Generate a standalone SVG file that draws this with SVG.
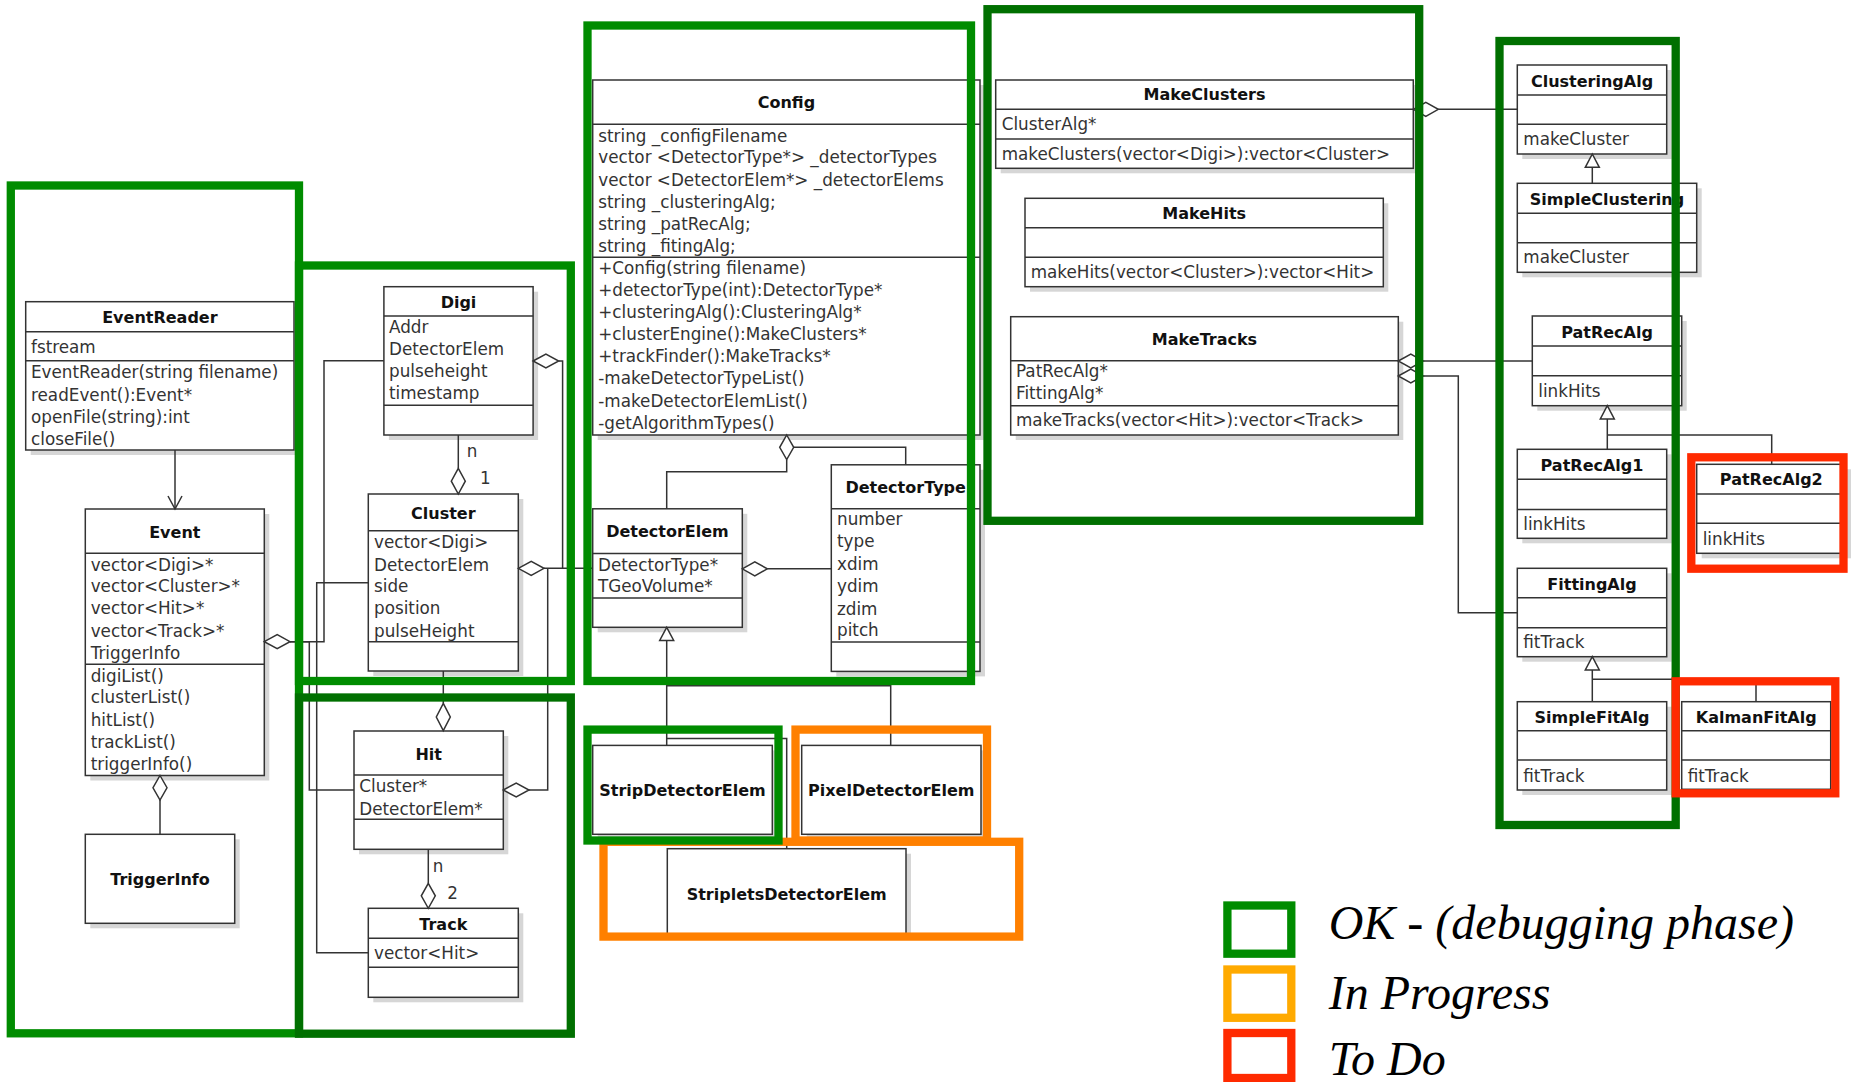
<svg xmlns="http://www.w3.org/2000/svg" width="1851" height="1082" viewBox="0 0 1851 1082">
<style>
.sh{fill:#d6d6d6}
.bx{fill:#fff;stroke:#333;stroke-width:1.5}
.dv{stroke:#333;stroke-width:1.5}
.t{font-family:"DejaVu Sans",sans-serif;font-weight:bold;font-size:16px;fill:#111;text-anchor:middle}
.m{font-family:"DejaVu Sans",sans-serif;font-size:16.8px;fill:#333}
.c{fill:none;stroke:#333;stroke-width:1.5}
.d{fill:#fff;stroke:#333;stroke-width:1.5}
.fr{fill:none;stroke-width:8.3}
.gb{stroke:#008c00}
.gd{stroke:#007000}
.or{stroke:#ff8000}
.rd{stroke:#ff2a00}
.lg{font-family:"Liberation Serif",serif;font-style:italic;font-size:48px;fill:#000}
</style>
<rect width="1851" height="1082" fill="#fff"/>

<!-- nodes -->
<g id="EventReader">
<rect class="sh" x="30.7" y="306.7" width="268.3" height="148.3"/>
<rect class="bx" x="25.7" y="301.7" width="268.3" height="148.3"/>
<line class="dv" x1="25.7" y1="331.7" x2="294" y2="331.7"/><line class="dv" x1="25.7" y1="360.7" x2="294" y2="360.7"/>
<text class="t" x="159.9" y="323.3">EventReader</text>
<text class="m" x="31" y="352.7">fstream</text>
<text class="m" x="31" y="378.3">EventReader(string filename)</text>
<text class="m" x="31" y="400.7">readEvent():Event*</text>
<text class="m" x="31" y="422.7">openFile(string):int</text>
<text class="m" x="31" y="445">closeFile()</text>
</g>
<g id="Event">
<rect class="sh" x="90.3" y="514" width="179" height="266.5"/>
<rect class="bx" x="85.3" y="509" width="179" height="266.5"/>
<line class="dv" x1="85.3" y1="553.3" x2="264.3" y2="553.3"/><line class="dv" x1="85.3" y1="664.3" x2="264.3" y2="664.3"/>
<text class="t" x="174.8" y="538.3">Event</text>
<text class="m" x="90.7" y="570.7">vector&lt;Digi&gt;*</text>
<text class="m" x="90.7" y="592.3">vector&lt;Cluster&gt;*</text>
<text class="m" x="90.7" y="614.3">vector&lt;Hit&gt;*</text>
<text class="m" x="90.7" y="636.7">vector&lt;Track&gt;*</text>
<text class="m" x="90.7" y="659">TriggerInfo</text>
<text class="m" x="90.7" y="681.7">digiList()</text>
<text class="m" x="90.7" y="703.3">clusterList()</text>
<text class="m" x="90.7" y="725.7">hitList()</text>
<text class="m" x="90.7" y="747.7">trackList()</text>
<text class="m" x="90.7" y="770">triggerInfo()</text>
</g>
<g id="TriggerInfo">
<rect class="sh" x="90.3" y="839.3" width="149.4" height="89"/>
<rect class="bx" x="85.3" y="834.3" width="149.4" height="89"/>
<text class="t" x="160" y="885">TriggerInfo</text>
</g>
<g id="Digi">
<rect class="sh" x="388.9" y="291.7" width="149.2" height="148.3"/>
<rect class="bx" x="383.9" y="286.7" width="149.2" height="148.3"/>
<line class="dv" x1="383.9" y1="316" x2="533.1" y2="316"/><line class="dv" x1="383.9" y1="405.3" x2="533.1" y2="405.3"/>
<text class="t" x="458.5" y="308.3">Digi</text>
<text class="m" x="389" y="333.3">Addr</text>
<text class="m" x="389" y="355">DetectorElem</text>
<text class="m" x="389" y="377.3">pulseheight</text>
<text class="m" x="389" y="399.3">timestamp</text>
</g>
<g id="Cluster">
<rect class="sh" x="373.3" y="499" width="150" height="177"/>
<rect class="bx" x="368.3" y="494" width="150" height="177"/>
<line class="dv" x1="368.3" y1="530.7" x2="518.3" y2="530.7"/><line class="dv" x1="368.3" y1="641.7" x2="518.3" y2="641.7"/>
<text class="t" x="443.3" y="519.3">Cluster</text>
<text class="m" x="374" y="548.3">vector&lt;Digi&gt;</text>
<text class="m" x="374" y="570.7">DetectorElem</text>
<text class="m" x="374" y="592.3">side</text>
<text class="m" x="374" y="614.3">position</text>
<text class="m" x="374" y="636.7">pulseHeight</text>
</g>
<g id="Hit">
<rect class="sh" x="359" y="736" width="149.3" height="118.3"/>
<rect class="bx" x="354" y="731" width="149.3" height="118.3"/>
<line class="dv" x1="354" y1="775" x2="503.3" y2="775"/><line class="dv" x1="354" y1="819.3" x2="503.3" y2="819.3"/>
<text class="t" x="428.7" y="760">Hit</text>
<text class="m" x="359.3" y="792.3">Cluster*</text>
<text class="m" x="359.3" y="815">DetectorElem*</text>
</g>
<g id="Track">
<rect class="sh" x="373.3" y="913.3" width="150" height="89"/>
<rect class="bx" x="368.3" y="908.3" width="150" height="89"/>
<line class="dv" x1="368.3" y1="938.3" x2="518.3" y2="938.3"/><line class="dv" x1="368.3" y1="967.3" x2="518.3" y2="967.3"/>
<text class="t" x="443.3" y="930">Track</text>
<text class="m" x="374" y="959.3">vector&lt;Hit&gt;</text>
</g>
<g id="Config">
<rect class="sh" x="597.7" y="85" width="387.3" height="355"/>
<rect class="bx" x="592.7" y="80" width="387.3" height="355"/>
<line class="dv" x1="592.7" y1="124.3" x2="980" y2="124.3"/><line class="dv" x1="592.7" y1="257.3" x2="980" y2="257.3"/>
<text class="t" x="786.4" y="108.3">Config</text>
<text class="m" x="598.3" y="141.7">string _configFilename</text>
<text class="m" x="598.3" y="163.3">vector &lt;DetectorType*&gt; _detectorTypes</text>
<text class="m" x="598.3" y="185.7">vector &lt;DetectorElem*&gt; _detectorElems</text>
<text class="m" x="598.3" y="207.7">string _clusteringAlg;</text>
<text class="m" x="598.3" y="230">string _patRecAlg;</text>
<text class="m" x="598.3" y="252.3">string _fitingAlg;</text>
<text class="m" x="598.3" y="274">+Config(string filename)</text>
<text class="m" x="598.3" y="296">+detectorType(int):DetectorType*</text>
<text class="m" x="598.3" y="318.3">+clusteringAlg():ClusteringAlg*</text>
<text class="m" x="598.3" y="340">+clusterEngine():MakeClusters*</text>
<text class="m" x="598.3" y="362.3">+trackFinder():MakeTracks*</text>
<text class="m" x="598.3" y="384.3">-makeDetectorTypeList()</text>
<text class="m" x="598.3" y="406.7">-makeDetectorElemList()</text>
<text class="m" x="598.3" y="429">-getAlgorithmTypes()</text>
</g>
<g id="DetectorElem">
<rect class="sh" x="597.7" y="513.8" width="149.6" height="118.5"/>
<rect class="bx" x="592.7" y="508.8" width="149.6" height="118.5"/>
<line class="dv" x1="592.7" y1="553.6" x2="742.3" y2="553.6"/><line class="dv" x1="592.7" y1="598" x2="742.3" y2="598"/>
<text class="t" x="667.5" y="537">DetectorElem</text>
<text class="m" x="598" y="570.5">DetectorType*</text>
<text class="m" x="598" y="592.2">TGeoVolume*</text>
</g>
<g id="DetectorType">
<rect class="sh" x="836.3" y="469.8" width="148.7" height="206.6"/>
<rect class="bx" x="831.3" y="464.8" width="148.7" height="206.6"/>
<line class="dv" x1="831.3" y1="508.8" x2="980" y2="508.8"/><line class="dv" x1="831.3" y1="642.1" x2="980" y2="642.1"/>
<text class="t" x="905.7" y="493.3">DetectorType</text>
<text class="m" x="837" y="525">number</text>
<text class="m" x="837" y="547.4">type</text>
<text class="m" x="837" y="569.8">xdim</text>
<text class="m" x="837" y="592.2">ydim</text>
<text class="m" x="837" y="614.6">zdim</text>
<text class="m" x="837" y="636.3">pitch</text>
</g>
<g id="StripDetectorElem">
<rect class="sh" x="597.7" y="750.4" width="179.6" height="88.9"/>
<rect class="bx" x="592.7" y="745.4" width="179.6" height="88.9"/>
<text class="t" x="682.5" y="796">StripDetectorElem</text>
</g>
<g id="PixelDetectorElem">
<rect class="sh" x="806.7" y="750.4" width="179.3" height="88.9"/>
<rect class="bx" x="801.7" y="745.4" width="179.3" height="88.9"/>
<text class="t" x="891.3" y="796">PixelDetectorElem</text>
</g>
<g id="StripletsDetectorElem">
<rect class="sh" x="672.3" y="853.7" width="238.7" height="85.1"/>
<rect class="bx" x="667.3" y="848.7" width="238.7" height="85.1"/>
<text class="t" x="786.7" y="900.4">StripletsDetectorElem</text>
</g>
<g id="MakeClusters">
<rect class="sh" x="1000.7" y="85" width="417.6" height="88.3"/>
<rect class="bx" x="995.7" y="80" width="417.6" height="88.3"/>
<line class="dv" x1="995.7" y1="109.3" x2="1413.3" y2="109.3"/><line class="dv" x1="995.7" y1="139" x2="1413.3" y2="139"/>
<text class="t" x="1204.5" y="100">MakeClusters</text>
<text class="m" x="1001.7" y="130">ClusterAlg*</text>
<text class="m" x="1001.7" y="160">makeClusters(vector&lt;Digi&gt;):vector&lt;Cluster&gt;</text>
</g>
<g id="MakeHits">
<rect class="sh" x="1030" y="203.3" width="358.3" height="88.4"/>
<rect class="bx" x="1025" y="198.3" width="358.3" height="88.4"/>
<line class="dv" x1="1025" y1="227.7" x2="1383.3" y2="227.7"/><line class="dv" x1="1025" y1="257.3" x2="1383.3" y2="257.3"/>
<text class="t" x="1204.2" y="219.3">MakeHits</text>
<text class="m" x="1030.7" y="278.3">makeHits(vector&lt;Cluster&gt;):vector&lt;Hit&gt;</text>
</g>
<g id="MakeTracks">
<rect class="sh" x="1015.7" y="321.7" width="387.6" height="118.3"/>
<rect class="bx" x="1010.7" y="316.7" width="387.6" height="118.3"/>
<line class="dv" x1="1010.7" y1="360.7" x2="1398.3" y2="360.7"/><line class="dv" x1="1010.7" y1="405.7" x2="1398.3" y2="405.7"/>
<text class="t" x="1204.5" y="345">MakeTracks</text>
<text class="m" x="1016" y="376.7">PatRecAlg*</text>
<text class="m" x="1016" y="399.3">FittingAlg*</text>
<text class="m" x="1016" y="426">makeTracks(vector&lt;Hit&gt;):vector&lt;Track&gt;</text>
</g>
<g id="ClusteringAlg">
<rect class="sh" x="1522.3" y="70" width="149.4" height="89"/>
<rect class="bx" x="1517.3" y="65" width="149.4" height="89"/>
<line class="dv" x1="1517.3" y1="95" x2="1666.7" y2="95"/><line class="dv" x1="1517.3" y1="124.3" x2="1666.7" y2="124.3"/>
<text class="t" x="1592" y="86.7">ClusteringAlg</text>
<text class="m" x="1523.3" y="145">makeCluster</text>
</g>
<g id="SimpleClustering">
<rect class="sh" x="1522.3" y="188.3" width="179.4" height="89"/>
<rect class="bx" x="1517.3" y="183.3" width="179.4" height="89"/>
<line class="dv" x1="1517.3" y1="213.3" x2="1696.7" y2="213.3"/><line class="dv" x1="1517.3" y1="242.7" x2="1696.7" y2="242.7"/>
<text class="t" x="1607" y="205">SimpleClustering</text>
<text class="m" x="1523.3" y="263.3">makeCluster</text>
</g>
<g id="PatRecAlg">
<rect class="sh" x="1537.3" y="321" width="149.4" height="89.7"/>
<rect class="bx" x="1532.3" y="316" width="149.4" height="89.7"/>
<line class="dv" x1="1532.3" y1="346" x2="1681.7" y2="346"/><line class="dv" x1="1532.3" y1="375.7" x2="1681.7" y2="375.7"/>
<text class="t" x="1607" y="338.3">PatRecAlg</text>
<text class="m" x="1538.3" y="396.7">linkHits</text>
</g>
<g id="PatRecAlg1">
<rect class="sh" x="1522.3" y="454.3" width="149.4" height="89"/>
<rect class="bx" x="1517.3" y="449.3" width="149.4" height="89"/>
<line class="dv" x1="1517.3" y1="479.3" x2="1666.7" y2="479.3"/><line class="dv" x1="1517.3" y1="509.5" x2="1666.7" y2="509.5"/>
<text class="t" x="1592" y="470.5">PatRecAlg1</text>
<text class="m" x="1523.3" y="530">linkHits</text>
</g>
<g id="PatRecAlg2">
<rect class="sh" x="1701.7" y="469.3" width="149.3" height="89"/>
<rect class="bx" x="1696.7" y="464.3" width="149.3" height="89"/>
<line class="dv" x1="1696.7" y1="494" x2="1846" y2="494"/><line class="dv" x1="1696.7" y1="523.3" x2="1846" y2="523.3"/>
<text class="t" x="1771.3" y="485.3">PatRecAlg2</text>
<text class="m" x="1702.7" y="545">linkHits</text>
</g>
<g id="FittingAlg">
<rect class="sh" x="1522.3" y="573.3" width="149.4" height="88.4"/>
<rect class="bx" x="1517.3" y="568.3" width="149.4" height="88.4"/>
<line class="dv" x1="1517.3" y1="597.7" x2="1666.7" y2="597.7"/><line class="dv" x1="1517.3" y1="627.7" x2="1666.7" y2="627.7"/>
<text class="t" x="1592" y="590">FittingAlg</text>
<text class="m" x="1523.3" y="648.3">fitTrack</text>
</g>
<g id="SimpleFitAlg">
<rect class="sh" x="1522.3" y="706.7" width="149.4" height="88.3"/>
<rect class="bx" x="1517.3" y="701.7" width="149.4" height="88.3"/>
<line class="dv" x1="1517.3" y1="730.7" x2="1666.7" y2="730.7"/><line class="dv" x1="1517.3" y1="760" x2="1666.7" y2="760"/>
<text class="t" x="1592" y="723.3">SimpleFitAlg</text>
<text class="m" x="1523.3" y="781.7">fitTrack</text>
</g>
<g id="KalmanFitAlg">
<rect class="sh" x="1686.7" y="706.7" width="149" height="87.6"/>
<rect class="bx" x="1681.7" y="701.7" width="149" height="87.6"/>
<line class="dv" x1="1681.7" y1="730.7" x2="1830.7" y2="730.7"/><line class="dv" x1="1681.7" y1="760" x2="1830.7" y2="760"/>
<text class="t" x="1756.2" y="723.3">KalmanFitAlg</text>
<text class="m" x="1687.7" y="781.7">fitTrack</text>
</g>

<!-- connectors -->
<g id="connectors">
<line class="c" x1="175" y1="450" x2="175" y2="509"/>
<polyline class="c" points="168,496 175,509 182,496"/>
<line class="c" x1="160" y1="800" x2="160" y2="834.3"/>
<polygon class="d" points="160,775.5 167,787.75 160,800 153,787.75"/>
<polyline class="c" points="290,641.7 324,641.7 324,360.7 383.9,360.7"/>
<polyline class="c" points="368.3,582.7 316.7,582.7 316.7,952.7 368.3,952.7"/>
<polyline class="c" points="290,641.7 309.3,641.7 309.3,790 354,790"/>
<polygon class="d" points="264.3,641.7 277.2,634.7 290,641.7 277.2,648.7"/>
<line class="c" x1="458.3" y1="435" x2="458.3" y2="468.3"/>
<polygon class="d" points="458.3,468.3 465.3,481.2 458.3,494 451.3,481.2"/>
<text class="m" x="466.7" y="456.7">n</text>
<text class="m" x="480" y="484">1</text>
<line class="c" x1="443.3" y1="671" x2="443.3" y2="703.3"/>
<polygon class="d" points="443.3,703.3 450.3,717 443.3,730.7 436.3,717"/>
<line class="c" x1="428.3" y1="849.3" x2="428.3" y2="883.3"/>
<polygon class="d" points="428.3,883.3 435.3,895.8 428.3,908.3 421.3,895.8"/>
<text class="m" x="432.7" y="871.7">n</text>
<text class="m" x="447.3" y="899.3">2</text>
<polyline class="c" points="558.7,361 562.6,361 562.6,568.3"/>
<polygon class="d" points="533.1,361 545.9,354 558.7,361 545.9,368"/>
<line class="c" x1="544" y1="568.3" x2="592.7" y2="568.3"/>
<polygon class="d" points="518.3,568.3 531.2,561.3 544,568.3 531.2,575.3"/>
<polyline class="c" points="529,790 547.7,790 547.7,568.3"/>
<polygon class="d" points="503.3,790 516.2,783 529,790 516.2,797"/>
<polyline class="c" points="786.7,459.6 786.7,471.7 666.7,471.7 666.7,508.8"/>
<polyline class="c" points="793.7,447.3 905.7,447.3 905.7,464.8"/>
<polygon class="d" points="786.7,435 793.7,447.3 786.7,459.6 779.7,447.3"/>
<line class="c" x1="767.3" y1="568.8" x2="831.3" y2="568.8"/>
<polygon class="d" points="742.3,568.8 754.8,561.8 767.3,568.8 754.8,575.8"/>
<line class="c" x1="666.7" y1="640.4" x2="666.7" y2="745.4"/>
<polyline class="c" points="666.7,685.8 890.7,685.8 890.7,745.4"/>
<polyline class="c" points="666.7,738.5 786.7,738.5 786.7,848.7"/>
<polygon class="d" points="666.7,627.3 673.7,640.4 659.7,640.4"/>
<line class="c" x1="1438.3" y1="109.3" x2="1517.3" y2="109.3"/>
<polygon class="d" points="1413.3,109.3 1425.8,102.3 1438.3,109.3 1425.8,116.3"/>
<line class="c" x1="1423.3" y1="361" x2="1532.3" y2="361"/>
<polyline class="c" points="1423.3,376 1458.3,376 1458.3,612.7 1517.3,612.7"/>
<polygon class="d" points="1398.3,361 1410.8,354 1423.3,361 1410.8,368"/>
<polygon class="d" points="1398.3,376 1410.8,369 1423.3,376 1410.8,383"/>
<line class="c" x1="1592.3" y1="167.3" x2="1592.3" y2="183.3"/>
<polygon class="d" points="1592.3,154 1599.3,167.3 1585.3,167.3"/>
<line class="c" x1="1607.3" y1="419" x2="1607.3" y2="449.3"/>
<polyline class="c" points="1607.3,435 1771.7,435 1771.7,464.3"/>
<polygon class="d" points="1607.3,405.7 1614.3,419 1600.3,419"/>
<line class="c" x1="1592.3" y1="670" x2="1592.3" y2="701.7"/>
<polyline class="c" points="1592.3,679.3 1756,679.3 1756,701.7"/>
<polygon class="d" points="1592.3,656.7 1599.3,670 1585.3,670"/>
</g>

<!-- status frames -->
<g id="frames">
<rect class="fr gb" x="10.8" y="185.5" width="288.2" height="847.8"/>
<rect class="fr gb" x="299" y="265.5" width="271.8" height="415.5"/>
<rect class="fr gd" x="299" y="697.5" width="271.8" height="336.2"/>
<rect class="fr gb" x="587.5" y="25.5" width="383.5" height="655.5"/>
<rect class="fr gd" x="987.5" y="9.2" width="431.7" height="511.6"/>
<rect class="fr gd" x="1499.5" y="41" width="176.2" height="784"/>
<rect class="fr or" x="603.5" y="841.8" width="415.7" height="94.8"/>
<rect class="fr gb" x="587.5" y="729.6" width="191" height="110.9"/>
<rect class="fr or" x="795.5" y="729.6" width="191.5" height="110.9"/>
<rect class="fr rd" x="1691.3" y="457.3" width="152.2" height="111.4"/>
<rect class="fr rd" x="1675.7" y="681.3" width="159.6" height="112"/>
</g>

<!-- legend -->
<g id="legend">
<rect class="fr" style="stroke:#008c00" x="1227.4" y="905.5" width="63.9" height="48.2"/>
<rect class="fr" style="stroke:#ffaa00" x="1227.4" y="969.5" width="63.9" height="48.3"/>
<rect class="fr" style="stroke:#ff2a00" x="1227.4" y="1033" width="63.9" height="45"/>
<text class="lg" x="1328.7" y="939">OK - (debugging phase)</text>
<text class="lg" x="1328.7" y="1008.5">In Progress</text>
<text class="lg" x="1328.7" y="1075">To Do</text>
</g>
</svg>
